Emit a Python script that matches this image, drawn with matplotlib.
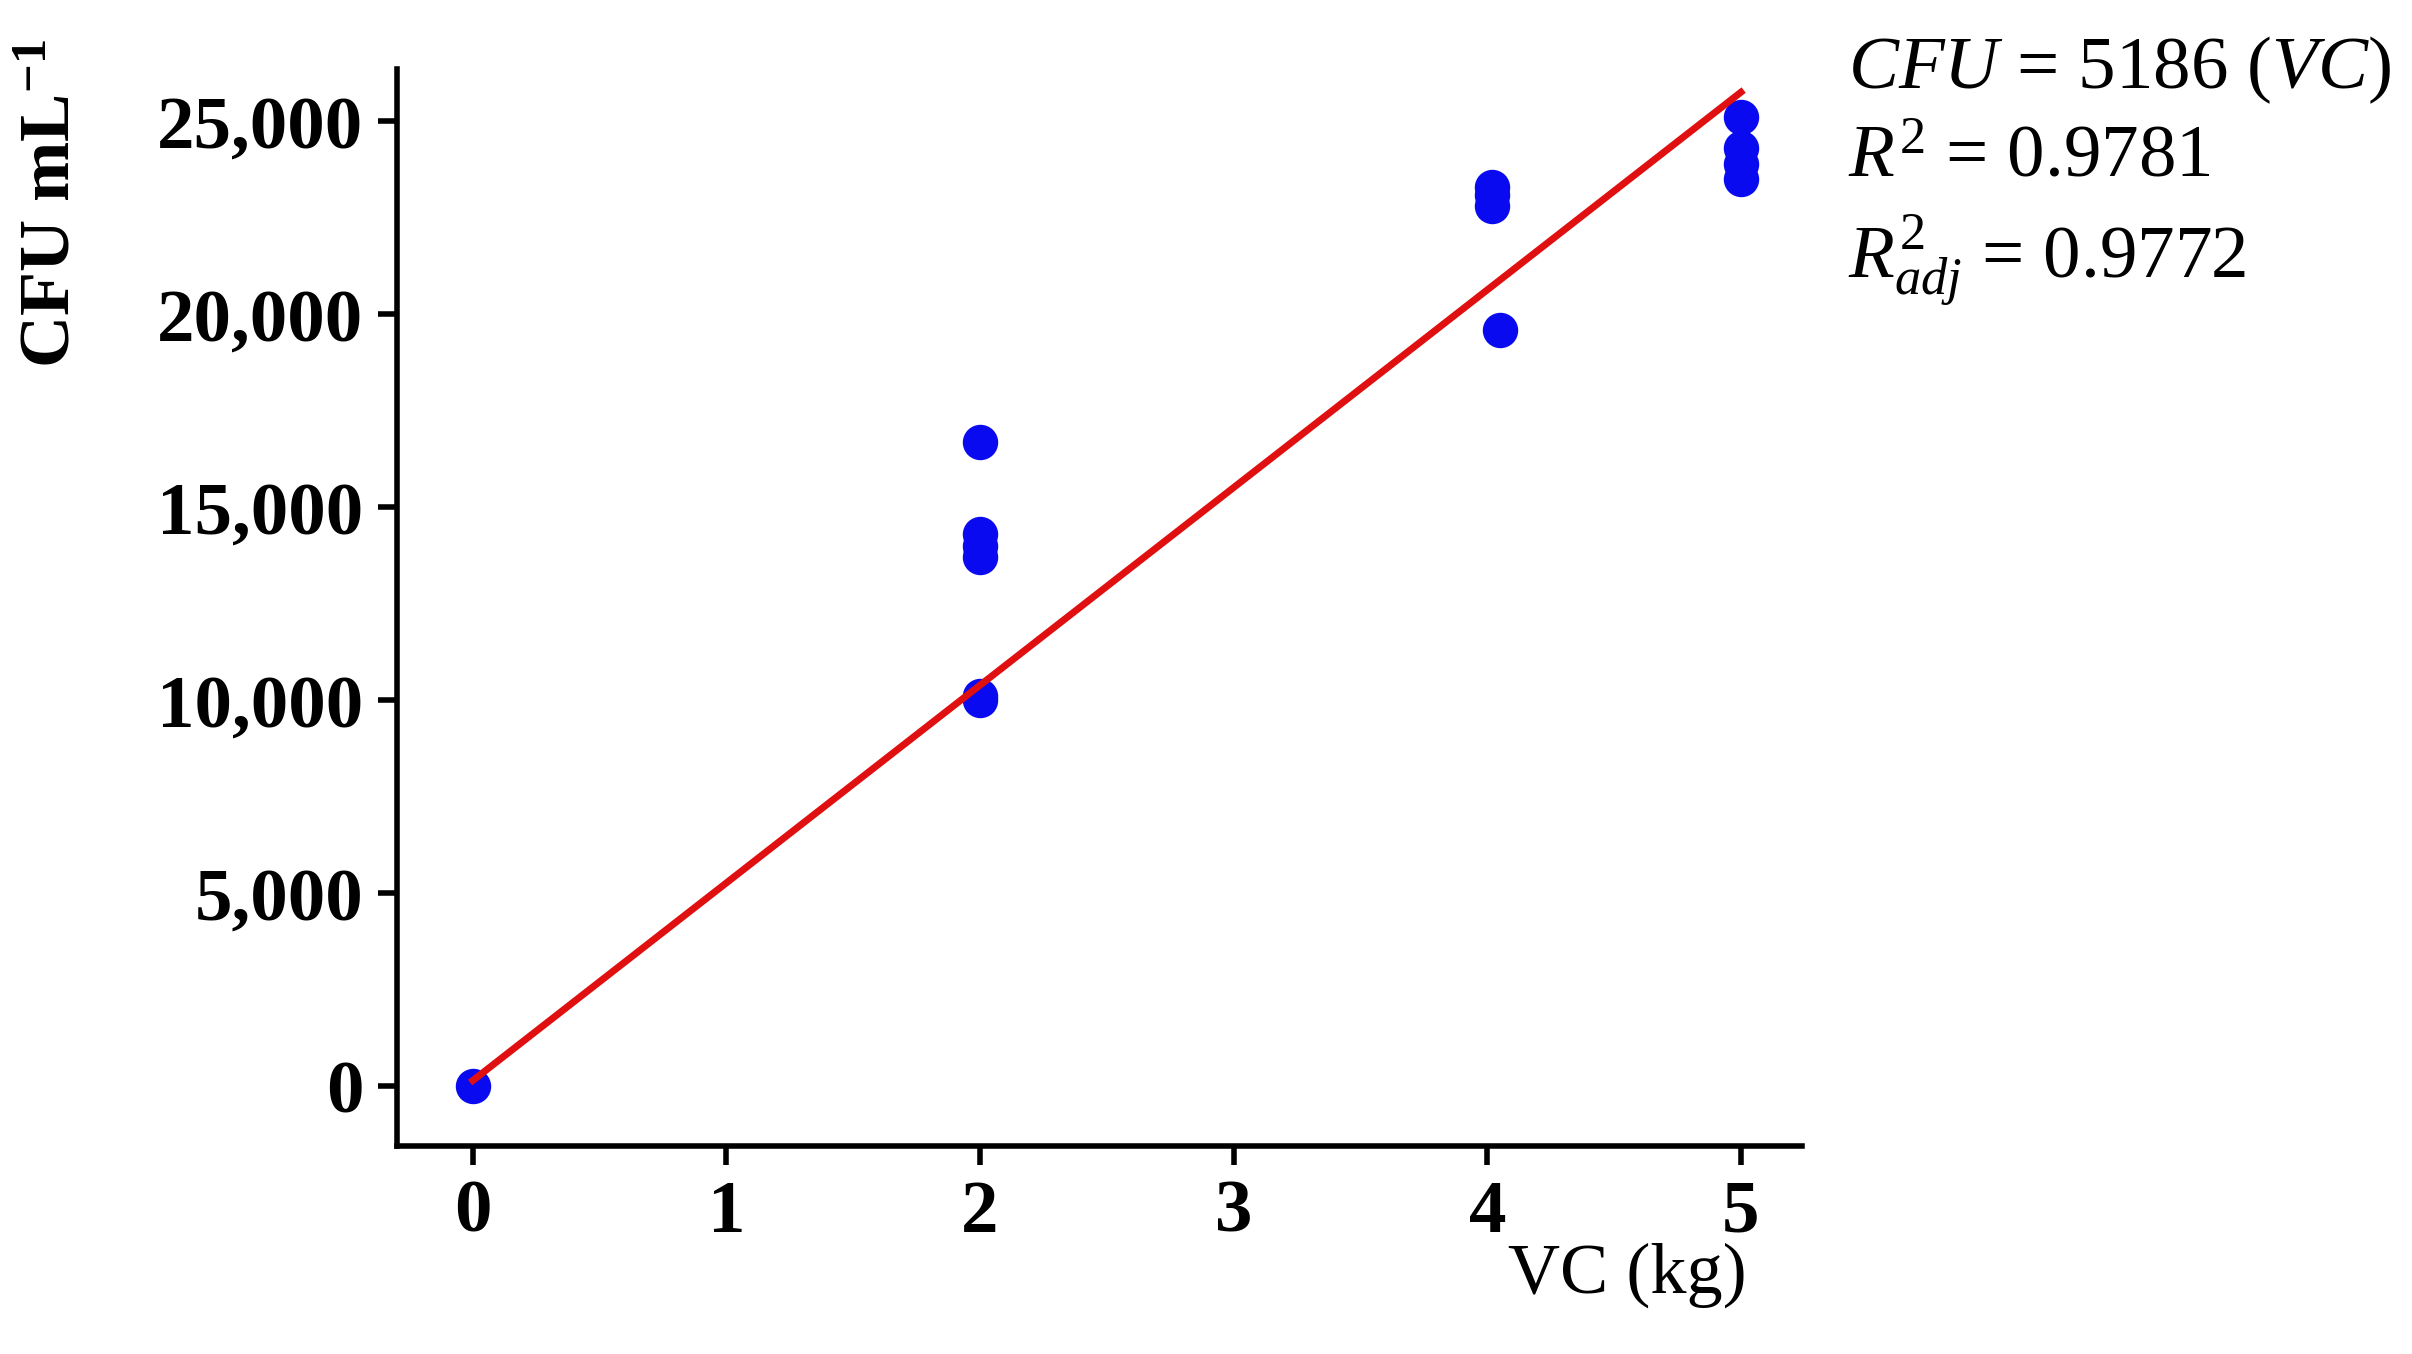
import matplotlib.pyplot as plt
import numpy as np

plt.rcParams['font.family'] = ['Liberation Serif', 'DejaVu Serif']
plt.rcParams['mathtext.fontset'] = 'custom'
plt.rcParams['mathtext.it'] = 'Liberation Serif:italic'
plt.rcParams['mathtext.rm'] = 'Liberation Serif'
plt.rcParams['mathtext.bf'] = 'Liberation Serif:bold'

vc = [0, 2, 2, 2, 2, 2, 2, 4.02, 4.02, 4.02, 4.05, 5, 5, 5, 5]
cfu = [0, 16700, 14300, 14000, 13700, 10100, 10000,
       23300, 23100, 22800, 19600, 25100, 24300, 23900, 23500]
slope = 5120
intercept = 150
xticks = [0, 1, 2, 3, 4, 5]
yticks = [0, 5000, 10000, 15000, 20000, 25000]

fig = plt.figure(figsize=(24.12, 13.54), dpi=100)
ax = fig.add_axes([0.1645, 0.1534, 0.5825, 0.7956])

ax.scatter(vc, cfu, s=600, color='#0a0af0', zorder=3)
xl = np.array([0, 5])
ax.plot(xl, slope * xl + intercept, color='#e01010', lw=5, zorder=4)

ax.set_xlim(-0.3, 5.24)
ax.set_ylim(-1555, 26350)
ax.set_xticks(xticks)
ax.set_yticks(yticks)
ax.set_yticklabels([f'{v:,}' for v in yticks])
for s in ['top', 'right']:
    ax.spines[s].set_visible(False)
for s in ['left', 'bottom']:
    ax.spines[s].set_linewidth(4)
ax.tick_params(width=4, length=14, labelsize=54, pad=10)
for lab in ax.get_xticklabels() + ax.get_yticklabels():
    lab.set_fontweight('bold')

fig.text(0.625, 0.045, 'VC (kg)', fontsize=52)
fig.text(0.008, 0.85, r'CFU mL$^{\mathbf{-1}}$', fontsize=52, fontweight='bold',
         rotation=90, ha='left', va='center')

fig.text(0.766, 0.935, r'$CFU$ = 5186 ($VC$)', fontsize=54)
fig.text(0.766, 0.87, r'$R^2$ = 0.9781', fontsize=54)
fig.text(0.766, 0.795, r'$R^2_{adj}$ = 0.9772', fontsize=54)

fig.savefig('out.png', dpi=100)
